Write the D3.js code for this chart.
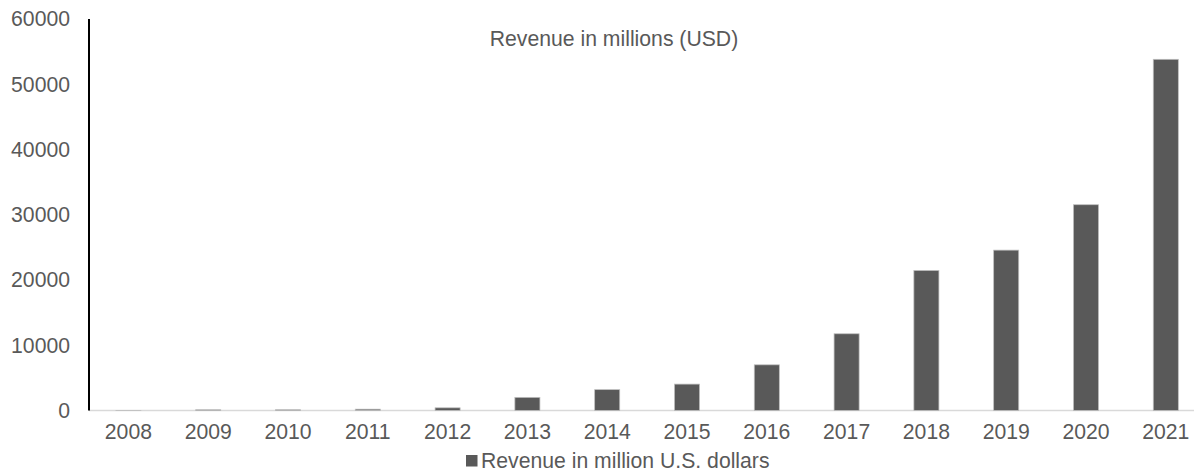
<!DOCTYPE html>
<meta charset="utf-8">

<style>
body { margin: 0; background: #fff; }
svg text {
  font-family: "Liberation Sans", Arial, sans-serif;
  fill: #595959;
}
.bars rect {
  fill: #595959;
  stroke: #bfbfbf;
  stroke-width: 0.75px;
}
</style>

<svg width="1194" height="472"></svg>

<script src="https://cdn.jsdelivr.net/npm/d3@7"></script>
<script>

// Chart data
var years = ["2008", "2009", "2010", "2011", "2012", "2013", "2014",
             "2015", "2016", "2017", "2018", "2019", "2020", "2021"];
var revenue = [15, 112, 117, 204, 413, 2013, 3198,
               4046, 7000, 11759, 21461, 24578, 31536, 53823];
var yTicks = [0, 10000, 20000, 30000, 40000, 50000, 60000];

var chartTitle = "Revenue in millions (USD)";
var legendLabel = "Revenue in million U.S. dollars";

var fontSize = "21.2px";

var svg = d3.select("svg");

var x = d3.scaleBand()
    .domain(years)
    .range([88.5, 1205.7])
    .paddingInner(0.686)
    .paddingOuter(0.343);

var y = d3.scaleLinear()
    .domain([0, 60000])
    .range([410.5, 19]);

// Baseline
svg.append("line")
    .attr("x1", 89).attr("x2", 1194)
    .attr("y1", y(0)).attr("y2", y(0))
    .attr("stroke", "#d9d9d9")
    .attr("stroke-width", 1.5);

// Bars
svg.append("g")
    .attr("class", "bars")
    .selectAll("rect")
    .data(years)
    .enter().append("rect")
      .attr("x", function(d) { return x(d); })
      .attr("width", x.bandwidth())
      .attr("y", function(d, i) { return y(revenue[i]); })
      .attr("height", function(d, i) { return y(0) - y(revenue[i]); });

// Y axis
var yAxis = svg.append("g")
    .attr("transform", "translate(89,0)")
    .call(d3.axisLeft(y).tickValues(yTicks).tickFormat(d3.format("d"))
      .tickSize(0).tickPadding(19));
yAxis.select(".domain")
    .attr("stroke", "#000")
    .attr("stroke-width", 2)
    .attr("d", "M0," + y(60000) + "V" + y(0));
yAxis.selectAll("text")
    .style("font-size", fontSize);

// X axis
var xAxis = svg.append("g")
    .attr("transform", "translate(0," + y(0) + ")")
    .call(d3.axisBottom(x).tickSize(0).tickPadding(13));
xAxis.select(".domain").remove();
xAxis.selectAll("text")
    .style("font-size", fontSize);

// Title
svg.append("text")
    .attr("x", 614)
    .attr("y", 46)
    .attr("text-anchor", "middle")
    .style("font-size", fontSize)
    .text(chartTitle);

// Legend
svg.append("rect")
    .attr("x", 466)
    .attr("y", 455)
    .attr("width", 11.5)
    .attr("height", 11.5)
    .attr("fill", "#595959");
svg.append("text")
    .attr("x", 481)
    .attr("y", 468)
    .style("font-size", fontSize)
    .text(legendLabel);

</script>
